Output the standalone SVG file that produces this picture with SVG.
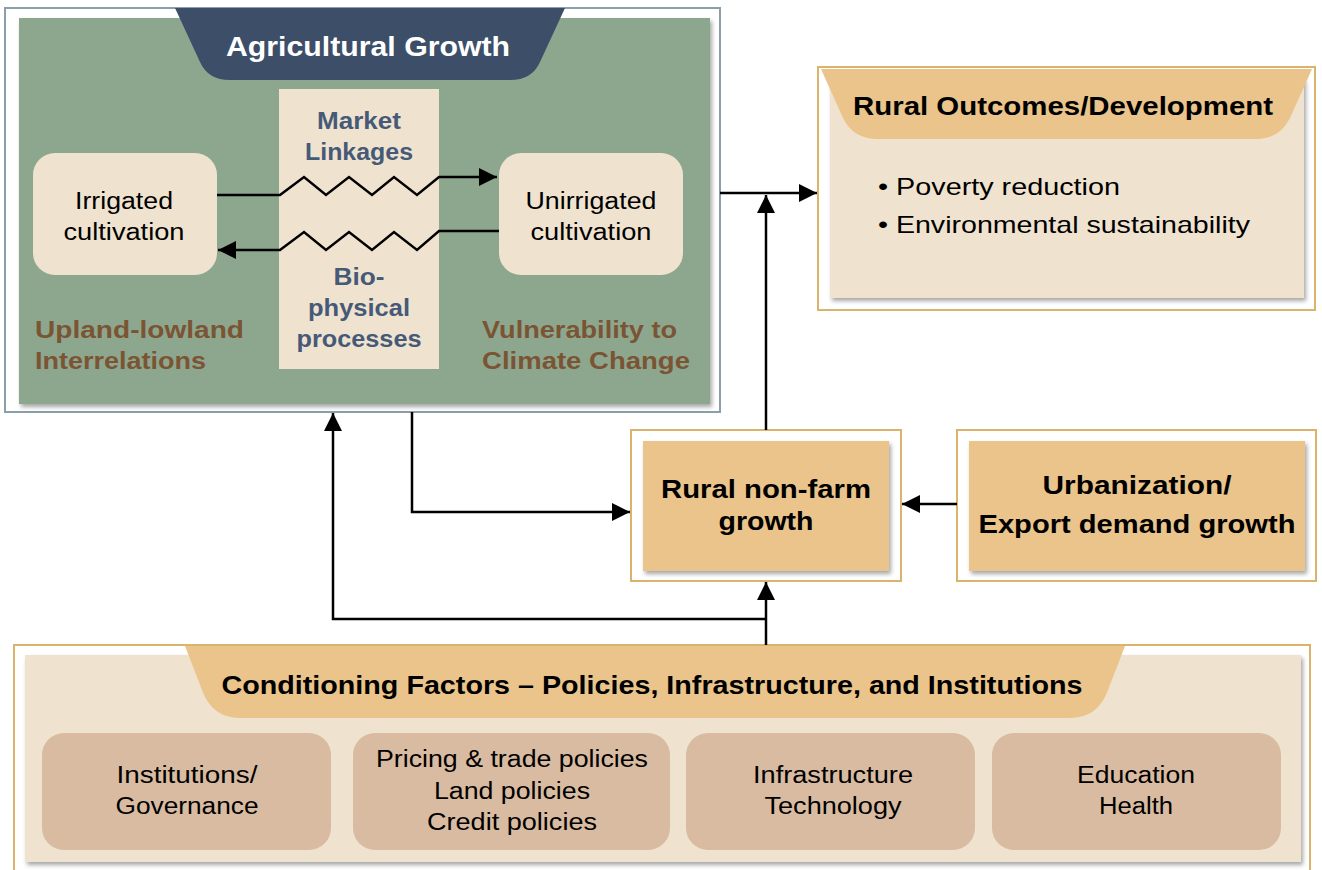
<svg xmlns="http://www.w3.org/2000/svg" width="1322" height="870" viewBox="0 0 1322 870">
<defs>
<filter id="sh" x="-5%" y="-5%" width="110%" height="115%">
<feDropShadow dx="2" dy="3" stdDeviation="2" flood-color="#000" flood-opacity="0.35"/>
</filter>
<marker id="ah" viewBox="0 0 10 10" refX="10" refY="5" markerWidth="18" markerHeight="18" markerUnits="userSpaceOnUse" orient="auto">
<path d="M0,0 L10,5 L0,10 Z" fill="#000"/>
</marker>
<style>
text{font-family:"Liberation Sans",Arial,sans-serif;text-anchor:middle}
.frameG{fill:#fff;stroke:#8a9eab;stroke-width:2}
.frameO{fill:#fff;stroke:#dbb46c;stroke-width:2}
.beige{fill:#efe3cf}
.orange{fill:#eac48a}
.pill{fill:#d9bba1}
.t20{font-size:23px;fill:#000}
.t23{font-size:24px;fill:#000}
.hb{font-size:25px;font-weight:bold;fill:#000}
.blue{font-size:23px;font-weight:bold;fill:#465a78}
.brown{font-size:23px;font-weight:bold;fill:#7b5434;text-anchor:start}
.start{text-anchor:start}
.con{fill:none;stroke:#000;stroke-width:2.5}
</style>
</defs>

<g id="agricultural-growth">
<rect class="frameG" x="5" y="8" width="715" height="404"/>
<rect x="19" y="18" width="691" height="386" fill="#8da78f" filter="url(#sh)"/>
<path d="M175,8 L565,8 L540,62 Q532,80 510,80 L230,80 Q208,80 200,62 Z" fill="#3d4e68"/>
<text x="368" y="56" font-size="28" font-weight="bold" fill="#fff" textLength="284" lengthAdjust="spacingAndGlyphs">Agricultural Growth</text>
<rect class="beige" x="279" y="89" width="160" height="280"/>
<text class="blue" x="359" y="129" textLength="84" lengthAdjust="spacingAndGlyphs">Market</text>
<text class="blue" x="359" y="160" textLength="108" lengthAdjust="spacingAndGlyphs">Linkages</text>
<text class="blue" x="359" y="285" textLength="51" lengthAdjust="spacingAndGlyphs">Bio-</text>
<text class="blue" x="359" y="316" textLength="102" lengthAdjust="spacingAndGlyphs">physical</text>
<text class="blue" x="359" y="347" textLength="125" lengthAdjust="spacingAndGlyphs">processes</text>
<text class="brown" x="35" y="338" textLength="209" lengthAdjust="spacingAndGlyphs">Upland-lowland</text>
<text class="brown" x="35" y="369" textLength="171" lengthAdjust="spacingAndGlyphs">Interrelations</text>
<text class="brown" x="482" y="338" textLength="195" lengthAdjust="spacingAndGlyphs">Vulnerability to</text>
<text class="brown" x="482" y="369" textLength="208" lengthAdjust="spacingAndGlyphs">Climate Change</text>
</g>

<g id="irrigated">
<rect class="beige" x="33" y="153" width="184" height="122" rx="22"/>
<text class="t20" x="124" y="209" textLength="98" lengthAdjust="spacingAndGlyphs">Irrigated</text>
<text class="t20" x="124" y="240" textLength="121" lengthAdjust="spacingAndGlyphs">cultivation</text>
</g>

<g id="unirrigated">
<rect class="beige" x="499" y="153" width="184" height="122" rx="22"/>
<text class="t20" x="591" y="209" textLength="131" lengthAdjust="spacingAndGlyphs">Unirrigated</text>
<text class="t20" x="591" y="240" textLength="121" lengthAdjust="spacingAndGlyphs">cultivation</text>
</g>

<g id="rural-outcomes">
<rect class="frameO" x="818" y="67" width="497" height="243"/>
<rect class="beige" x="830" y="78" width="474" height="220" filter="url(#sh)"/>
<path d="M821,69 L1312,69 L1290,118 Q1280,139 1255,139 L878,139 Q853,139 843,118 Z" fill="#eac48a"/>
<text class="hb" x="1063" y="115" textLength="420" lengthAdjust="spacingAndGlyphs">Rural Outcomes/Development</text>
<text class="t23 start" x="878" y="195" textLength="242" lengthAdjust="spacingAndGlyphs">• Poverty reduction</text>
<text class="t23 start" x="878" y="233" textLength="372" lengthAdjust="spacingAndGlyphs">• Environmental sustainability</text>
</g>

<g id="rural-nonfarm">
<rect class="frameO" x="631" y="430" width="270" height="151"/>
<rect class="orange" x="643" y="441" width="246" height="130" filter="url(#sh)"/>
<text class="hb" x="766" y="498" textLength="210" lengthAdjust="spacingAndGlyphs">Rural non-farm</text>
<text class="hb" x="766" y="530" textLength="95" lengthAdjust="spacingAndGlyphs">growth</text>
</g>

<g id="urbanization">
<rect class="frameO" x="957" y="430" width="359" height="151"/>
<rect class="orange" x="969" y="441" width="336" height="130" filter="url(#sh)"/>
<text class="hb" x="1137" y="494" textLength="189" lengthAdjust="spacingAndGlyphs">Urbanization/</text>
<text class="hb" x="1137" y="533" textLength="317" lengthAdjust="spacingAndGlyphs">Export demand growth</text>
</g>

<g id="conditioning-factors">
<rect class="frameO" x="14" y="645" width="1296" height="230"/>
<rect class="beige" x="25" y="655" width="1276" height="207" filter="url(#sh)"/>
<path d="M185,646 L1125,646 L1108,690 Q1098,718 1070,718 L240,718 Q212,718 202,690 Z" fill="#eac48a"/>
<text class="hb" x="652" y="694" textLength="861" lengthAdjust="spacingAndGlyphs">Conditioning Factors – Policies, Infrastructure, and Institutions</text>
</g>

<g id="institutions">
<rect class="pill" x="42" y="733" width="289" height="117" rx="22"/>
<text class="t20" x="187" y="783" textLength="141" lengthAdjust="spacingAndGlyphs">Institutions/</text>
<text class="t20" x="187" y="814" textLength="143" lengthAdjust="spacingAndGlyphs">Governance</text>
</g>
<g id="policies">
<rect class="pill" x="353" y="733" width="317" height="117" rx="22"/>
<text class="t20" x="512" y="767" textLength="272" lengthAdjust="spacingAndGlyphs">Pricing &amp; trade policies</text>
<text class="t20" x="512" y="799" textLength="156" lengthAdjust="spacingAndGlyphs">Land policies</text>
<text class="t20" x="512" y="830" textLength="170" lengthAdjust="spacingAndGlyphs">Credit policies</text>
</g>
<g id="infrastructure">
<rect class="pill" x="686" y="733" width="289" height="117" rx="22"/>
<text class="t20" x="833" y="783" textLength="160" lengthAdjust="spacingAndGlyphs">Infrastructure</text>
<text class="t20" x="833" y="814" textLength="137" lengthAdjust="spacingAndGlyphs">Technology</text>
</g>
<g id="education">
<rect class="pill" x="992" y="733" width="289" height="117" rx="22"/>
<text class="t20" x="1136" y="783" textLength="118" lengthAdjust="spacingAndGlyphs">Education</text>
<text class="t20" x="1136" y="814" textLength="74" lengthAdjust="spacingAndGlyphs">Health</text>
</g>

<g id="connectors">
<path class="con" d="M217,195 L280,195 L304,177 L326,195 L349,177 L372,195 L394,177 L417,195 L439,177 L497,177" marker-end="url(#ah)"/>
<path class="con" d="M499,231 L439,231 L417,250 L394,232 L372,250 L349,232 L326,250 L304,232 L280,250 L218,250" marker-end="url(#ah)"/>
<path class="con" d="M720,193 L817,193" marker-end="url(#ah)"/>
<path class="con" d="M766,430 L766,195" marker-end="url(#ah)"/>
<path class="con" d="M412,412 L412,512 L630,512" marker-end="url(#ah)"/>
<path class="con" d="M957,504 L902,504" marker-end="url(#ah)"/>
<path class="con" d="M766,645 L766,582" marker-end="url(#ah)"/>
<path class="con" d="M766,619 L333,619 L333,413" marker-end="url(#ah)"/>
</g>
</svg>
